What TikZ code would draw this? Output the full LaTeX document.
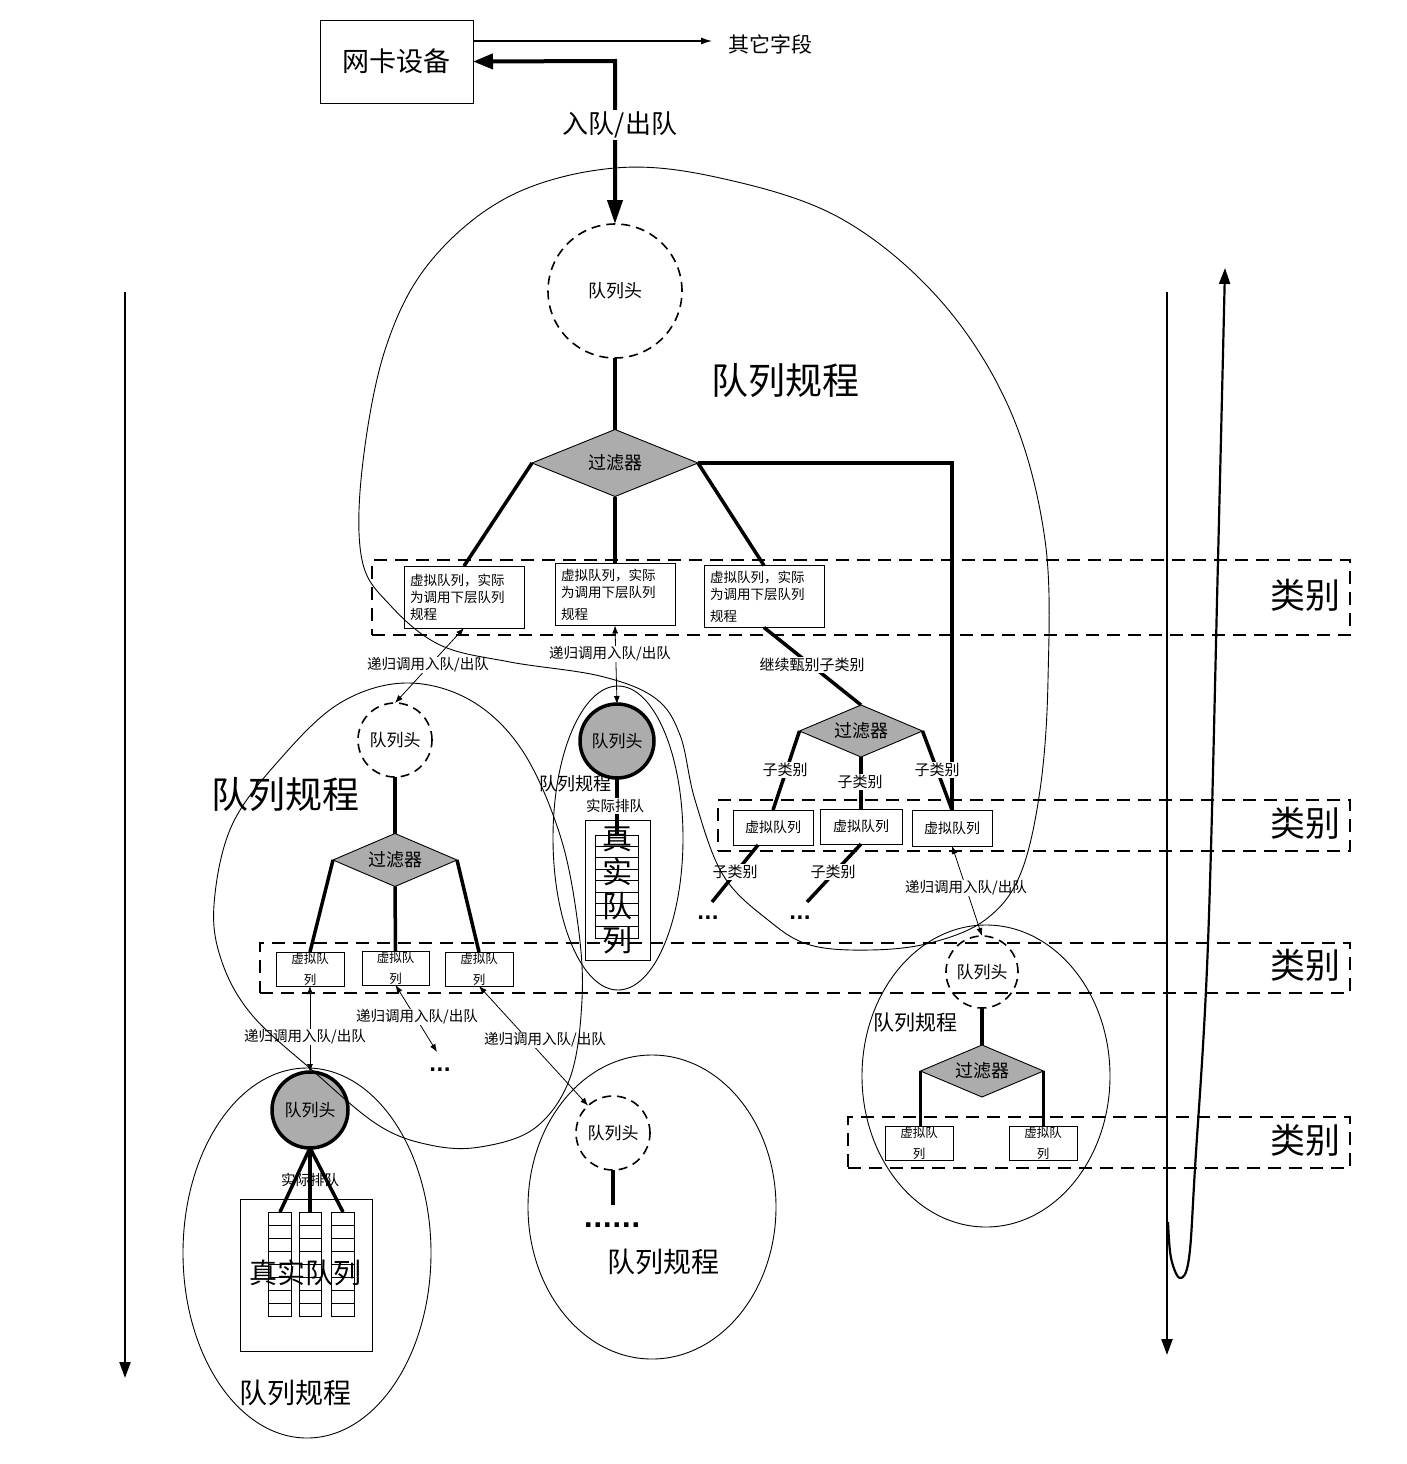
\documentclass[tikz,border=0pt]{standalone}
\usepackage{fontspec}
\setmainfont{Noto Sans CJK SC}
\newfontfamily\dotfont{DejaVu Sans}
\usetikzlibrary{shapes.geometric,arrows.meta,calc}
\newcommand\myfs[1]{\fontsize{#1}{#1}\selectfont}
\begin{document}
\begin{tikzpicture}[x=1pt,y=-1pt,
  every node/.style={inner sep=0pt, outer sep=0pt},
  thk/.style={line width=3.5pt},
  thn/.style={line width=0.9pt},
  qhead/.style={circle, draw, dash pattern=on 9pt off 6pt, line width=1.6pt, minimum size=74pt, font=\myfs{17}},
  qreal/.style={circle, draw, fill=gray!65, line width=3.5pt, minimum size=74pt, font=\myfs{17}},
  filt/.style={diamond, aspect=2.5, draw, fill=gray!65, line width=0.9pt, font=\myfs{18}},
  vq/.style={draw, line width=0.9pt, fill=white},
  vqbig/.style={vq, minimum width=120pt, minimum height=62pt, align=left, text width=108pt, font=\fontsize{13.5}{17}\selectfont},
  vqmid/.style={vq, minimum width=81pt, minimum height=35pt, font=\myfs{14}},
  vqsmall/.style={vq, minimum width=68pt, minimum height=34pt, align=center, font=\fontsize{12.5}{21}\selectfont},
  cls/.style={draw, dash pattern=on 13pt off 8pt, line width=1.6pt},
  clslabel/.style={font=\myfs{35}},
  lbl/.style={fill=white, font=\myfs{14.5}, inner sep=1pt},
  dbl/.style={line width=0.8pt, {Latex[length=8pt,width=6pt]}-{Latex[length=8pt,width=6pt]}},
  curve/.style={line width=0.9pt},
  bigtitle/.style={font=\myfs{37}},
  midtitle/.style={font=\myfs{28}},
  dotstyle/.style={font=\dotfont\bfseries\myfs{19}, anchor=base},
  ell/.style={ellipse, draw, line width=0.9pt},
  mainarrow/.style={line width=2.2pt, -{Triangle[length=16pt,width=11pt]}},
]
\useasboundingbox (0,0) rectangle (1406,1464);

% ---------- class rows (dashed) ----------
\node[cls, minimum width=978pt, minimum height=75pt] (c1) at (861,597.5) {};
\node[cls, minimum width=632pt, minimum height=51pt] (c2) at (1034,825.5) {};
\node[cls, minimum width=1090pt, minimum height=50pt] (c3) at (805,968) {};
\node[cls, minimum width=502pt, minimum height=51pt] (c4) at (1099,1142.5) {};
\node[clslabel] (c1l) at (1305,595) {类别};
\node[clslabel] (c2l) at (1305,823) {类别};
\node[clslabel] (c3l) at (1305,965) {类别};
\node[clslabel] (c4l) at (1305,1140) {类别};

% ---------- side arrows ----------
\coordinate (la1) at (125,292);
\coordinate (la2) at (125,1378);
\draw[mainarrow] (la1) -- (la2);
\coordinate (ra1) at (1167,292);
\coordinate (ra2) at (1167,1355);
\draw[mainarrow] (ra1) -- (ra2);
\draw[mainarrow] plot[smooth, tension=0.6] coordinates {(1168,1222) (1171,1258) (1180,1278) (1189,1258) (1195,1168) (1208,943) (1218,560) (1225,268)};

% ---------- top ----------
\node[draw, line width=0.9pt, minimum width=153pt, minimum height=83pt, font=\myfs{27}] (nic) at (396.5,61.5) {网卡设备};
\node[font=\myfs{21}, anchor=west] (other) at (728,44) {其它字段};
\draw[line width=1.1pt, -{Latex[length=11pt,width=7pt]}, shorten >=16pt] (nic.east |- 0,41) -- (other.west |- 0,41);
\node[qhead, minimum size=134pt, font=\myfs{18}] (qh1) at (615,291) {队列头};
\coordinate (corner) at (615,61);
\draw[line width=4pt, {Triangle[length=20pt,width=15pt]}-{Triangle[length=24pt,width=15pt]}] (nic.east) -- (corner) -- (qh1.north);
\node[fill=white, font=\myfs{26}, inner sep=2pt] (io) at (620,125) {入队/出队};
\node[bigtitle] (t1) at (785,381) {队列规程};

% ---------- filter 1 and class row 1 ----------
\node[filt, minimum width=166pt, minimum height=67pt] (f1) at (615,463) {过滤器};
\draw[thk] (qh1.south) -- (f1.north);
\node[vqbig] (v1a) at (464,597) {虚拟队列，实际\\为调用下层队列\\规程};
\node[vqbig] (v1b) at (615,594.5) {虚拟队列，实际\\为调用下层队列\\[5pt]规程};
\node[vqbig] (v1c) at (764,596.5) {虚拟队列，实际\\为调用下层队列\\[5pt]规程};
\draw[thk] (f1.west) -- (v1a.north);
\draw[thk] (f1.south) -- (v1b.north);
\draw[thk] (f1.east) -- (v1c.north);

% ---------- filter 2, class row 2 ----------
\node[filt, minimum width=123pt, minimum height=52pt] (f2) at (861,731) {过滤器};
\node[vqmid, minimum width=80pt] (v2a) at (773,827.5) {虚拟队列};
\node[vqmid, minimum width=82pt] (v2b) at (861,826.5) {虚拟队列};
\node[vqmid, minimum width=80pt, minimum height=36pt] (v2c) at (952,828) {虚拟队列};
\draw[thk] (f1.east) -| (v2c.north);
\draw[thk] (v1c.south) -- (f2.north);
\node[lbl, font=\myfs{15}] (l1c) at (812,665) {继续甄别子类别};
\draw[thk] (f2.west) -- (v2a.north);
\draw[thk] (f2.south) -- (v2b.north);
\draw[thk] (f2.east) -- (v2c.north);
\node[lbl, font=\myfs{15}] (s1) at (785,770) {子类别};
\node[lbl, font=\myfs{15}] (s2) at (860,782) {子类别};
\node[lbl, font=\myfs{15}] (s3) at (937,770) {子类别};
\coordinate (e1) at (712,902);
\coordinate (e2) at (807,902);
\draw[thk] ($(v2a.south)+(-15,0)$) -- (e1);
\draw[thk] (v2b.south) -- (e2);
\node[lbl, font=\myfs{15}] (s4) at (735,872) {子类别};
\node[lbl, font=\myfs{15}] (s5) at (833,872) {子类别};
\node[dotstyle] (d1) at (708,919) {...};
\node[dotstyle] (d2) at (800,919) {...};

% ---------- recursion arrows row 1 ----------
\node[qhead] (qh2) at (395,740) {队列头};
\node[qreal] (qh3) at (617,741) {队列头};
\draw[dbl] (v1a.south) -- (qh2.north);
\node[lbl] (r1) at (428,665) {递归调用入队/出队};
\draw[dbl] (v1b.south) -- (qh3.north);
\node[lbl] (r2) at (610,654) {递归调用入队/出队};

% ---------- middle real queue ----------
\node[draw, line width=0.9pt, minimum width=65pt, minimum height=140pt] (rq3) at (617.5,890) {};
\draw[thn] (595,835) rectangle (638,938);
\foreach \k in {1,...,8} \draw[thn] (595,{835+103/9*\k}) -- (638,{835+103/9*\k});
\coordinate (st3) at (617,835);
\draw[thk] (qh3.south) -- (st3);
\node[font=\myfs{18}] (t3) at (575,784) {队列规程};
\node[lbl] (a3) at (615,806) {实际排队};
\node[align=center, font=\fontsize{30}{34}\selectfont] (rt3) at (617,889) {真\\实\\队\\列};

% ---------- left sub discipline ----------
\node[bigtitle] (t2) at (285,795) {队列规程};
\node[filt, minimum width=124pt, minimum height=53pt] (f3) at (395,860) {过滤器};
\draw[thk] (qh2.south) -- (f3.north);
\node[vqsmall] (v3a) at (310,969) {虚拟队\\列};
\node[vqsmall, minimum width=67pt] (v3b) at (395.5,968) {虚拟队\\列};
\node[vqsmall] (v3c) at (479,969) {虚拟队\\列};
\draw[thk] (f3.west) -- (v3a.north);
\draw[thk] (f3.south) -- (v3b.north);
\draw[thk] (f3.east) -- (v3c.north);

% ---------- right sub discipline ----------
\node[qhead, minimum size=72pt] (qh4) at (982,972) {队列头};
\draw[dbl] (v2c.south) -- (qh4.north);
\node[lbl] (r3) at (966,888) {递归调用入队/出队};
\node[filt, minimum width=123pt, minimum height=52pt] (f4) at (982,1071) {过滤器};
\draw[thk] (qh4.south) -- (f4.north);
\node[font=\myfs{21}] (t4) at (915,1023) {队列规程};
\node[vqsmall] (v4a) at (919,1143) {虚拟队\\列};
\node[vqsmall] (v4b) at (1043,1143) {虚拟队\\列};
\draw[thk] (f4.west) -- (f4.west |- v4a.north);
\draw[thk] (f4.east) -- (f4.east |- v4b.north);

% ---------- bottom left ----------
\node[qreal, minimum size=76pt] (qh5) at (310,1110) {队列头};
\draw[dbl] (v3a.south) -- (qh5.north);
\node[lbl] (r4) at (305,1037) {递归调用入队/出队};
\coordinate (e3) at (437,1052);
\draw[dbl] (v3b.south) -- (e3);
\node[lbl] (r5) at (417,1017) {递归调用入队/出队};
\node[dotstyle] (d3) at (440,1071) {...};
\node[draw, line width=0.9pt, minimum width=132pt, minimum height=152pt] (rq5) at (306,1275) {};
\foreach \xl/\xr in {268/291,299/321,331/354} {
  \draw[thn] (\xl,1212) rectangle (\xr,1316);
  \foreach \k in {1,...,7} \draw[thn] (\xl,{1212+13*\k}) -- (\xr,{1212+13*\k});
}
\coordinate (s5a) at (280,1212);
\coordinate (s5b) at (310,1212);
\coordinate (s5c) at (343,1212);
\draw[thk] (qh5.south) -- (s5a);
\draw[thk] (qh5.south) -- (s5b);
\draw[thk] (qh5.south) -- (s5c);
\node[font=\myfs{14.5}] (a5) at (310,1180) {实际排队};
\node[font=\myfs{28}] (rt5) at (305,1273) {真实队列};
\node[midtitle] (t5) at (295,1393) {队列规程};

% ---------- bottom middle ----------
\node[qhead] (qh6) at (613,1133) {队列头};
\draw[dbl] (v3c.south) -- (qh6);
\node[lbl] (r6) at (545,1040) {递归调用入队/出队};
\coordinate (q6e) at (613,1205);
\draw[thk] (qh6.south) -- (q6e);
\node[font=\dotfont\bfseries\myfs{25}, anchor=base] (d4) at (612,1227) {......};
\node[midtitle] (t6) at (663,1262) {队列规程};

% ---------- ellipses and free curves ----------
\node[ell, minimum width=130pt, minimum height=304pt] (el3) at (618,838) {};
\node[ell, minimum width=248pt, minimum height=370pt] (el5) at (307,1253) {};
\node[ell, minimum width=248pt, minimum height=304pt] (el6) at (652,1207) {};
\node[ell, minimum width=248pt, minimum height=302pt] (el4) at (986,1076) {};
\draw[curve] plot[smooth cycle, tension=0.6] coordinates {
  (615,168) (720,178) (840,218) (940,300) (1010,410) (1045,540) (1048,680)
  (1040,790) (1020,875) (985,920) (930,943) (870,950) (810,945) (768,920)
  (723,875) (695,800) (680,735) (655,698) (600,676) (510,662) (440,645)
  (390,605) (362,560) (362,470) (385,350) (430,262) (510,196)};
\draw[curve] plot[smooth cycle, tension=0.6] coordinates {
  (405,683) (470,700) (522,750) (560,835) (578,925) (582,1000) (570,1078)
  (535,1128) (480,1147) (430,1145) (378,1125) (312,1070) (252,1015)
  (222,962) (214,905) (232,825) (282,757) (340,703)};
\end{tikzpicture}
\end{document}
